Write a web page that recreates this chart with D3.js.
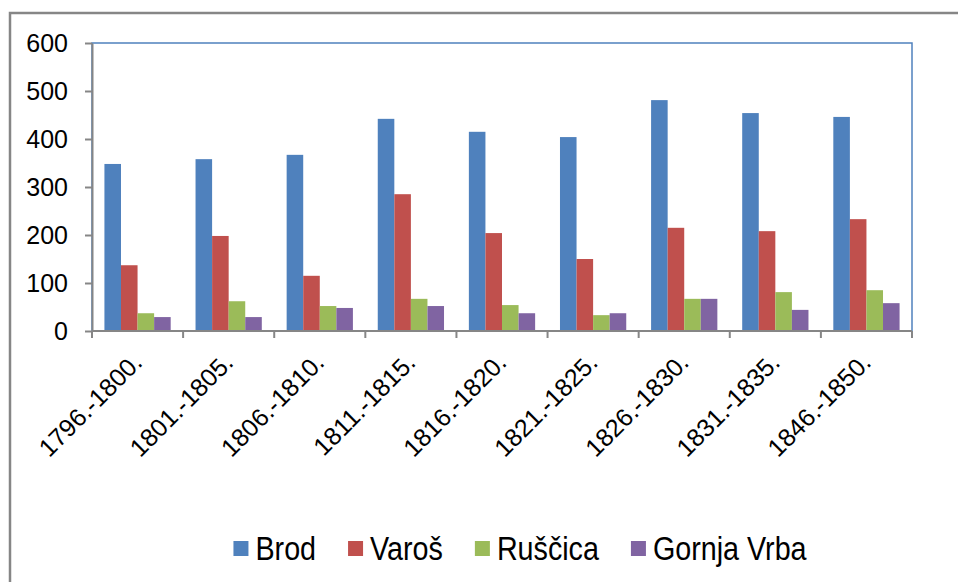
<!DOCTYPE html>
<html>
<head>
<meta charset="utf-8">
<script src="https://cdn.jsdelivr.net/npm/d3@7"></script>
<style>
  html, body { margin: 0; padding: 0; background: #fff; }
  svg { display: block; font-family: "Liberation Sans", Arial, sans-serif; }
</style>
</head>
<body>
<div id="chart"></div>
<script>
'use strict';
// data
const periods = ['1796.-1800.', '1801.-1805.', '1806.-1810.', '1811.-1815.', '1816.-1820.',
                 '1821.-1825.', '1826.-1830.', '1831.-1835.', '1846.-1850.'];
const seriesNames = ['Brod', 'Varoš', 'Ruščica', 'Gornja Vrba'];
const brod = [348, 358, 367, 442, 415, 404, 481, 454, 446];
const varos = [137, 198, 115, 285, 204, 150, 215, 208, 233];
const ruscica = [37, 62, 52, 67, 54, 33, 67, 81, 85];
const gornjaVrba = [29, 29, 48, 52, 37, 37, 67, 44, 58];
const yTicks = [0, 100, 200, 300, 400, 500, 600];
const colors = ['#4f81bd', '#c0504d', '#9bbb59', '#8064a2'];

const seriesValues = [brod, varos, ruscica, gornjaVrba];
const rows = periods.map((p, i) => ({
  period: p,
  values: seriesNames.map((s, j) => ({ key: s, value: seriesValues[j][i] }))
}));

const W = 958, H = 582;
const margin = { top: 43, right: 46, bottom: 251, left: 92 };
const width = W - margin.left - margin.right,
      height = H - margin.top - margin.bottom;

const svg = d3.select('#chart').append('svg')
    .attr('width', W)
    .attr('height', H);

// outer chart border (runs off the right and bottom edges)
svg.append('rect')
    .attr('x', 10).attr('y', 13)
    .attr('width', 1000).attr('height', 700)
    .attr('fill', 'none')
    .attr('stroke', '#868686')
    .attr('stroke-width', 2.5);

const g = svg.append('g')
    .attr('transform', 'translate(' + margin.left + ',' + margin.top + ')');

const x0 = d3.scaleBand().domain(periods).range([0, width]).paddingInner(0).paddingOuter(0);
// excel gap width 150% -> bars take 4 / 5.5 of a band
const x1 = d3.scaleBand().domain(seriesNames)
    .range([x0.bandwidth() * 0.75 / 5.5, x0.bandwidth() * (1 - 0.75 / 5.5)]);
const y = d3.scaleLinear().domain([0, 600]).range([height, 0]);

// plot area frame (blue top and right)
g.append('rect')
    .attr('width', width).attr('height', height)
    .attr('fill', 'none')
    .attr('stroke', '#4f81bd')
    .attr('stroke-width', 1.5);

g.selectAll('.group')
    .data(rows)
  .enter().append('g')
    .attr('class', 'group')
    .attr('transform', d => 'translate(' + x0(d.period) + ',0)')
  .selectAll('rect')
    .data(d => d.values)
  .enter().append('rect')
    .attr('x', d => x1(d.key))
    .attr('width', x1.bandwidth())
    .attr('y', d => y(d.value))
    .attr('height', d => height - y(d.value))
    .attr('fill', (d, i) => colors[i]);

// y axis
const yAxis = g.append('g')
    .call(d3.axisLeft(y).tickValues(yTicks).tickSize(7).tickPadding(17).tickSizeOuter(0));
yAxis.select('.domain').attr('stroke', '#868686').attr('stroke-width', 2);
yAxis.selectAll('.tick line').attr('stroke', '#868686').attr('stroke-width', 2);
yAxis.selectAll('.tick text')
    .attr('font-size', 25)
    .attr('font-family', '"Liberation Sans", Arial, sans-serif')
    .attr('fill', '#000');

// x axis: ticks sit on the band edges
const xAxis = g.append('g')
    .attr('transform', 'translate(0,' + height + ')');
xAxis.append('line')
    .attr('x1', 0).attr('x2', width)
    .attr('stroke', '#868686').attr('stroke-width', 2);
xAxis.selectAll('.xtick')
    .data(periods.concat(['end']))
  .enter().append('line')
    .attr('class', 'xtick')
    .attr('x1', (d, i) => i * x0.step())
    .attr('x2', (d, i) => i * x0.step())
    .attr('y1', 0).attr('y2', 7)
    .attr('stroke', '#868686').attr('stroke-width', 2);
xAxis.selectAll('.xlabel')
    .data(periods)
  .enter().append('text')
    .attr('class', 'xlabel')
    .attr('text-anchor', 'end')
    .attr('font-size', 25)
    .attr('transform', d => 'translate(' + (x0(d) + x0.bandwidth() / 2 + 6) + ',33) rotate(-45)')
    .text(d => d);

// legend
const legend = svg.append('g');
let lx = 0;
seriesNames.forEach((name, i) => {
  const item = legend.append('g').attr('transform', 'translate(' + lx + ',0)');
  item.append('rect')
      .attr('x', 0).attr('y', -19)
      .attr('width', 15).attr('height', 15)
      .attr('fill', colors[i]);
  const t = item.append('text')
      .attr('transform', 'translate(22,0) scale(0.87,1)')
      .attr('font-size', 33)
      .text(name);
  const tw = t.node().getComputedTextLength() * 0.87;
  lx += 22 + tw + 32;
});
const legendWidth = lx - 32;
legend.attr('transform', 'translate(' + (520 - legendWidth / 2) + ',560)');
</script>
</body>
</html>
